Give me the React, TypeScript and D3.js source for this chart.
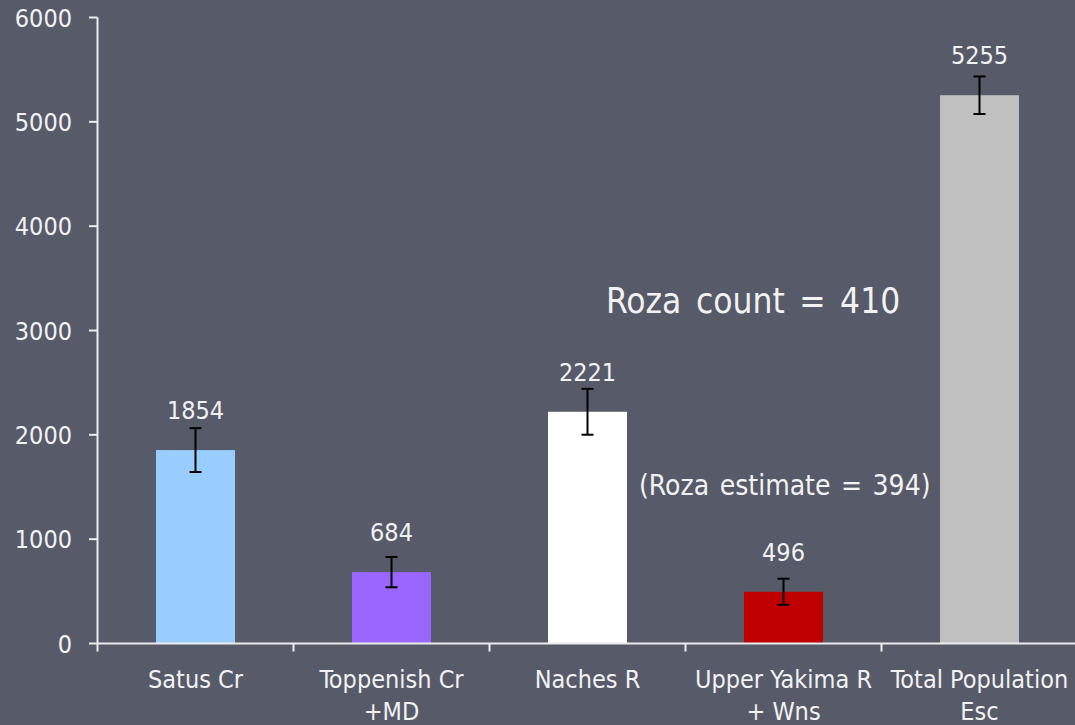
import { useEffect, useRef } from 'react';
import * as d3 from 'd3';

const categories = ['Satus Cr', 'Toppenish Cr|+MD', 'Naches R', 'Upper Yakima R|+ Wns', 'Total Population|Esc'];
const values = [1854, 684, 2221, 496, 5255];
const errors = [210, 145, 220, 125, 180];
const barColors = ['#99ccff', '#9966ff', '#ffffff', '#c00000', '#c0c0c0'];
const yTicks = [0, 1000, 2000, 3000, 4000, 5000, 6000];
const notes = ['Roza count = 410', '(Roza estimate = 394)'];

const App = () => {
    const svgRef = useRef(null);
    const width = 1075;
    const height = 725;
    const font = '"DejaVu Sans Condensed", "DejaVu Sans", sans-serif';
    const textColor = '#f2f2f2';

    useEffect(() => {
        const svg = d3.select(svgRef.current);
        svg.selectAll('*').remove();

        svg.append('rect')
            .attr('width', width)
            .attr('height', height)
            .attr('fill', '#575a69');

        const xScale = d3.scaleBand()
            .domain(categories)
            .range([97.5, 1077.5])
            .paddingInner(0.597)
            .paddingOuter(0.2985);

        const yScale = d3.scaleLinear()
            .domain([0, 6000])
            .range([643.5, 17.5]);

        const step = xScale.step();
        const bw = xScale.bandwidth();

        // bars
        svg.selectAll('.bar')
            .data(values)
            .join('rect')
            .attr('class', 'bar')
            .attr('x', (d, i) => xScale(categories[i]))
            .attr('y', d => yScale(d))
            .attr('width', bw)
            .attr('height', d => yScale(0) - yScale(d))
            .attr('fill', (d, i) => barColors[i]);

        // error bars
        const eb = svg.append('g').attr('stroke', '#000').attr('stroke-width', 2);
        values.forEach((v, i) => {
            const cx = xScale(categories[i]) + bw / 2;
            const top = yScale(v + errors[i]);
            const bot = yScale(v - errors[i]);
            eb.append('line').attr('x1', cx).attr('x2', cx).attr('y1', top).attr('y2', bot);
            eb.append('line').attr('x1', cx - 6).attr('x2', cx + 6).attr('y1', top).attr('y2', top);
            eb.append('line').attr('x1', cx - 6).attr('x2', cx + 6).attr('y1', bot).attr('y2', bot);
        });

        // value labels
        svg.selectAll('.val')
            .data(values)
            .join('text')
            .attr('class', 'val')
            .attr('x', (d, i) => xScale(categories[i]) + bw / 2)
            .attr('y', d => yScale(d) - 31)
            .attr('text-anchor', 'middle')
            .attr('font-family', font)
            .attr('font-size', 25)
            .attr('fill', textColor)
            .text(d => d);

        // y axis
        const axisColor = '#ececec';
        svg.append('line')
            .attr('x1', 97.5).attr('x2', 97.5)
            .attr('y1', yScale(6000)).attr('y2', yScale(0))
            .attr('stroke', axisColor).attr('stroke-width', 2);
        yTicks.forEach(t => {
            svg.append('line')
                .attr('x1', 89).attr('x2', 97.5)
                .attr('y1', yScale(t)).attr('y2', yScale(t))
                .attr('stroke', axisColor).attr('stroke-width', 2);
            svg.append('text')
                .attr('x', 72)
                .attr('y', yScale(t))
                .attr('dy', '0.36em')
                .attr('text-anchor', 'end')
                .attr('font-family', font)
                .attr('font-size', 25)
                .attr('fill', textColor)
                .text(t);
        });

        // x axis
        svg.append('line')
            .attr('x1', 97.5).attr('x2', width)
            .attr('y1', yScale(0)).attr('y2', yScale(0))
            .attr('stroke', axisColor).attr('stroke-width', 2);
        d3.range(categories.length + 1).forEach(i => {
            const x = 97.5 + i * step;
            svg.append('line')
                .attr('x1', x).attr('x2', x)
                .attr('y1', yScale(0)).attr('y2', yScale(0) + 8)
                .attr('stroke', axisColor).attr('stroke-width', 2);
        });
        categories.forEach(c => {
            const t = svg.append('text')
                .attr('x', xScale(c) + bw / 2)
                .attr('y', 688)
                .attr('text-anchor', 'middle')
                .attr('font-family', font)
                .attr('font-size', 25)
                .attr('fill', textColor);
            c.split('|').forEach((line, j) => {
                t.append('tspan')
                    .attr('x', xScale(c) + bw / 2)
                    .attr('dy', j === 0 ? 0 : 32)
                    .text(line);
            });
        });

        // annotations
        svg.append('text')
            .attr('x', 606).attr('y', 313)
            .attr('font-family', font)
            .attr('font-size', 35)
            .attr('word-spacing', 4.5)
            .attr('fill', textColor)
            .text(notes[0]);
        svg.append('text')
            .attr('x', 639).attr('y', 495)
            .attr('font-family', font)
            .attr('font-size', 28)
            .attr('word-spacing', 2.5)
            .attr('fill', textColor)
            .text(notes[1]);
    }, []);

    return (
        <div style={{ position: 'absolute', left: 0, top: 0 }}>
            <svg ref={svgRef} width={width} height={height} style={{ display: 'block' }}></svg>
        </div>
    );
};

export default App;
